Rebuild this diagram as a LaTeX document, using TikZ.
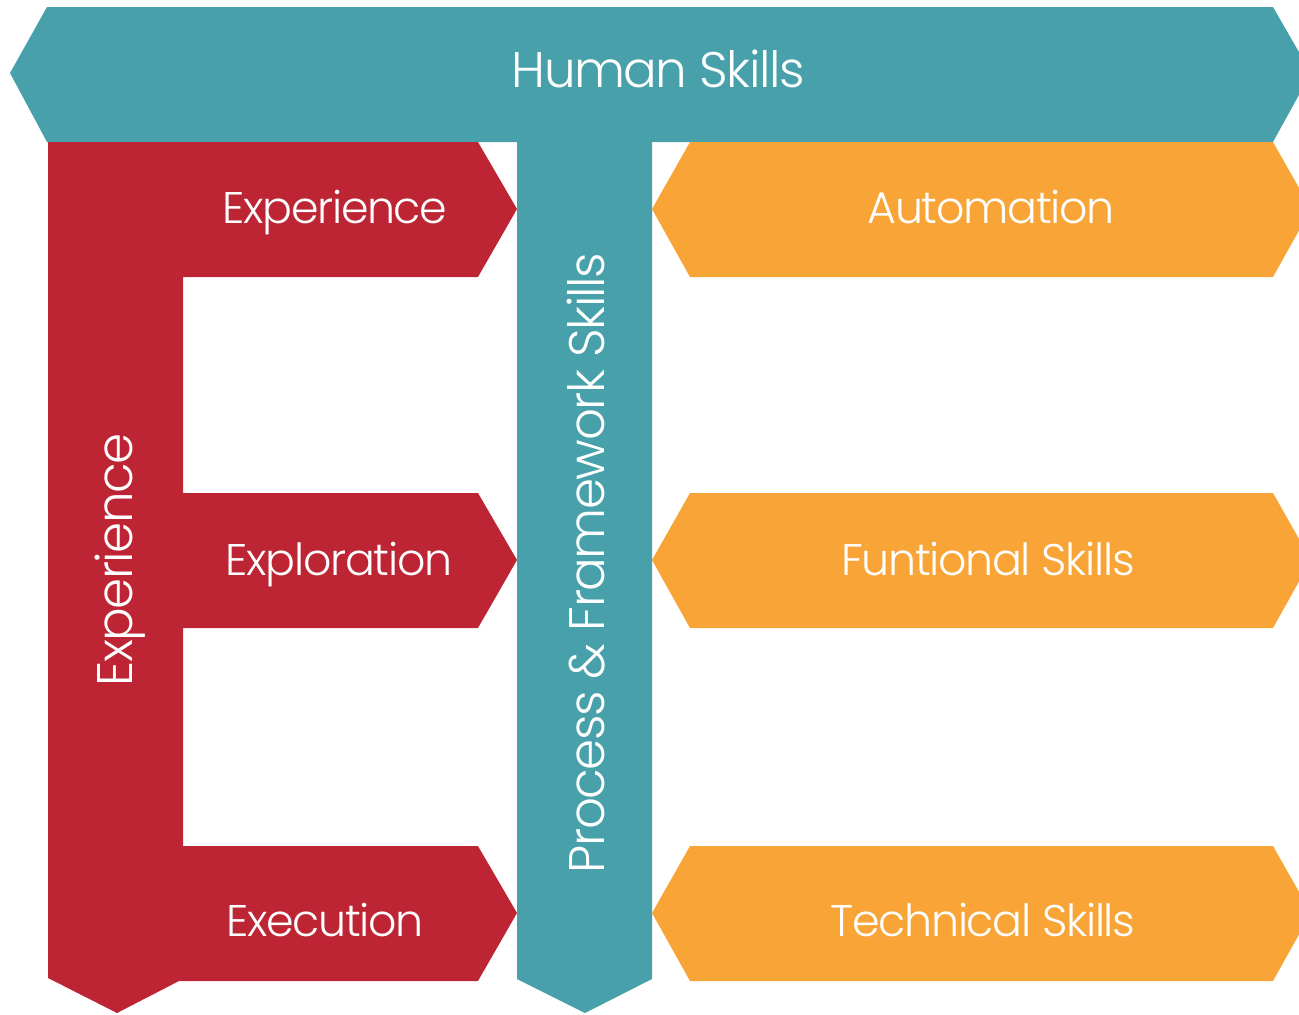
\documentclass[tikz,border=0pt]{standalone}
\usepackage{fontspec}
\setmainfont{Poppins}[UprightFont=* Light, LetterSpace=-3]
\definecolor{skillteal}{HTML}{48A1AA}
\definecolor{skillred}{HTML}{BD2534}
\definecolor{skillorange}{HTML}{F9A436}

\begin{document}
\begin{tikzpicture}[x=0.01cm,y=-0.01cm,
  lbl/.style={text=white, inner sep=0pt, anchor=base, font=\fontsize{14.2}{16}\selectfont},
  armlbl/.style={lbl, font=\fontsize{12.6}{15}\selectfont}]
\useasboundingbox (0,0) rectangle (1299,1014);
\clip (0,0) rectangle (1299,1014);

% top banner
\fill[skillteal] (10,73) -- (47,7) -- (1273,7) -- (1311,73) -- (1273,142) -- (47,142) -- cycle;
% middle column
\fill[skillteal] (517,140) -- (652,140) -- (652,979) -- (585,1013) -- (517,979) -- cycle;
% red E
\fill[skillred] (48,142) -- (478,142) -- (517,209) -- (478,277) -- (183,277)
  -- (183,493) -- (478,493) -- (517,560) -- (478,628) -- (183,628)
  -- (183,846) -- (478,846) -- (517,913) -- (478,981) -- (179,981)
  -- (117,1013) -- (48,978) -- cycle;
% orange arms
\foreach \t in {142,493,846}
  \fill[skillorange] (652,\t+67) -- (690,\t) -- (1273,\t) -- (1311,\t+67) -- (1273,\t+135) -- (690,\t+135) -- cycle;

\node[lbl] (human) at (658,87) {Human Skills};
\node[armlbl] (exper) at (335,223) {Experience};
\node[armlbl] (explo) at (339,575) {Exploration};
\node[armlbl] (execu) at (325,936) {Execution};
\node[armlbl] (autom) at (991,223) {Automation};
\node[armlbl] (funct) at (988,575) {Funtional Skills};
\node[armlbl] (techn) at (983,936) {Technical Skills};
\node[lbl, rotate=90] (experv) at (132,560) {Experience};
\node[lbl, rotate=90] (procfw) at (604,563) {Process \& Framework Skills};
\end{tikzpicture}
\end{document}
